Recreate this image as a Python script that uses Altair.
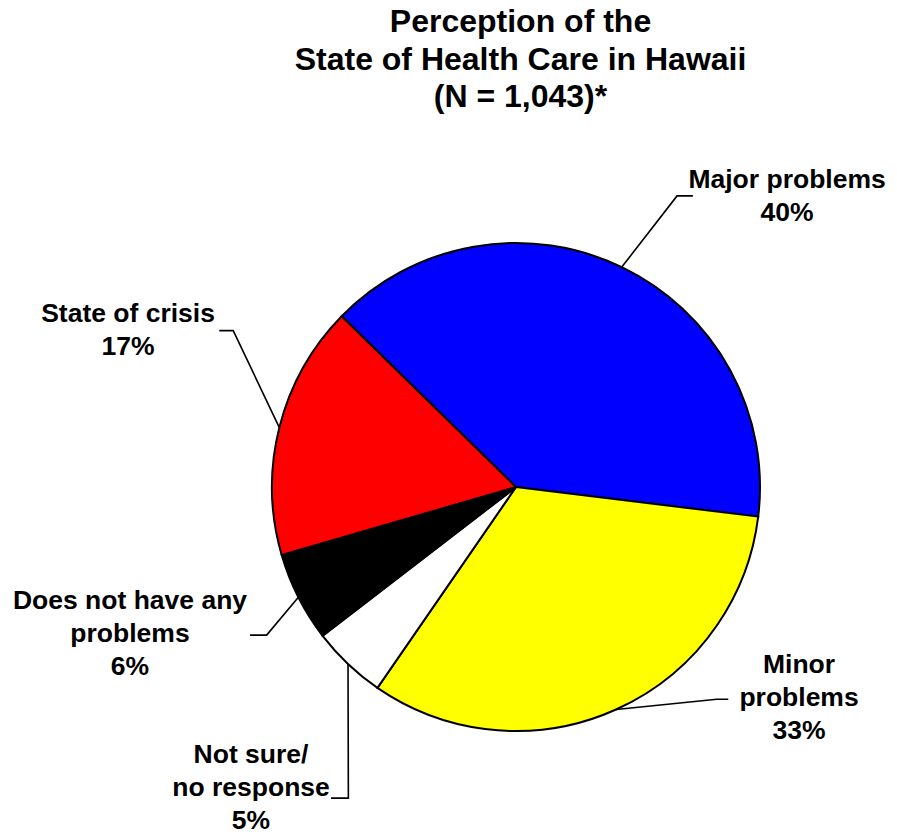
import math
import altair as alt
import pandas as pd

# ---------------- data ----------------
categories = ["Major problems", "Minor problems", "Not sure/no response",
              "Does not have any problems", "State of crisis"]
percents = [40, 33, 5, 6, 17]
colors = ["#0000FF", "#FFFF00", "#FFFFFF", "#000000", "#FF0000"]
label_texts = ["Major problems\n40%", "Minor\nproblems\n33%", "Not sure/\nno response\n5%",
               "Does not have any\nproblems\n6%", "State of crisis\n17%"]
title_lines = ["Perception of the", "State of Health Care in Hawaii", "(N = 1,043)*"]

# ---------------- layout (pie-radius units, y up, centre = 0,0) ----------------
start_deg = -45.6
label_x = [1.111, 1.160, -1.086, -1.582, -1.590]
label_y = [1.225, -0.762, -1.131, -0.500, 0.676]
elbow_x = [0.660, 0.823, -0.687, -1.022, -1.159]
elbow_y = [1.193, -0.870, -1.275, -0.607, 0.641]
end_x = [0.725, 0.870, -0.758, -1.090, -1.216]
end_y = [1.193, -0.870, -1.275, -0.607, 0.641]

R = 244
W, H = 881, 711
FONT = "Liberation Sans, Arial, sans-serif"

total = sum(percents)
pie_df = pd.DataFrame({"cat": categories, "pct": percents, "idx": range(len(categories))})

rows = []
cum = 0
for i, (c, p) in enumerate(zip(categories, percents)):
    mid = math.radians(start_deg + (cum + p / 2) / total * 360)
    cum += p
    rows.append({"cat": c, "step": 0, "ux": math.sin(mid), "uy": math.cos(mid)})
    rows.append({"cat": c, "step": 1, "ux": elbow_x[i], "uy": elbow_y[i]})
    rows.append({"cat": c, "step": 2, "ux": end_x[i], "uy": end_y[i]})
line_df = pd.DataFrame(rows)

text_df = pd.DataFrame({"cat": categories, "txt": label_texts, "ux": label_x, "uy": label_y})

# centre of pie at page (516,487); view origin at page (8,120)
cx, cy = 516 - 8, 487 - 120
xs = alt.Scale(domain=[-cx / R, (W - cx) / R], nice=False, zero=False)
ys = alt.Scale(domain=[(cy - H) / R, cy / R], nice=False, zero=False)

a0 = math.radians(start_deg)
pie = alt.Chart(pie_df).mark_arc(outerRadius=R, stroke="black", strokeWidth=2).encode(
    x=alt.X(datum=0, type="quantitative", scale=xs, axis=None),
    y=alt.Y(datum=0, type="quantitative", scale=ys, axis=None),
    theta=alt.Theta("pct:Q", stack=True, scale=alt.Scale(range=[a0, a0 + 2 * math.pi])),
    color=alt.Color("cat:N", scale=alt.Scale(domain=categories, range=colors), legend=None),
    order=alt.Order("idx:Q"),
)

lines = alt.Chart(line_df).mark_line(color="black", strokeWidth=1.6).encode(
    x=alt.X("ux:Q", scale=xs, axis=None),
    y=alt.Y("uy:Q", scale=ys, axis=None),
    detail="cat:N",
    order="step:Q",
)

texts = alt.Chart(text_df).mark_text(
    font=FONT, fontSize=26.5, fontWeight="bold", align="center",
    baseline="alphabetic", lineHeight=33, lineBreak="\n", color="black",
).encode(
    x=alt.X("ux:Q", scale=xs, axis=None),
    y=alt.Y("uy:Q", scale=ys, axis=None),
    text="txt:N",
)

chart = alt.layer(pie, lines, texts).properties(
    width=W, height=H,
    title=alt.Title(title_lines, font=FONT, fontSize=32, fontWeight="bold",
                    lineHeight=37.5, anchor="middle", dx=72, offset=6, color="black"),
    padding={"top": 112, "left": 0, "right": 0, "bottom": 0},
    autosize=alt.AutoSizeParams(type="none"),
).configure_view(strokeWidth=0)

chart.save("out.html", embed_options={"renderer": "svg", "actions": False})
